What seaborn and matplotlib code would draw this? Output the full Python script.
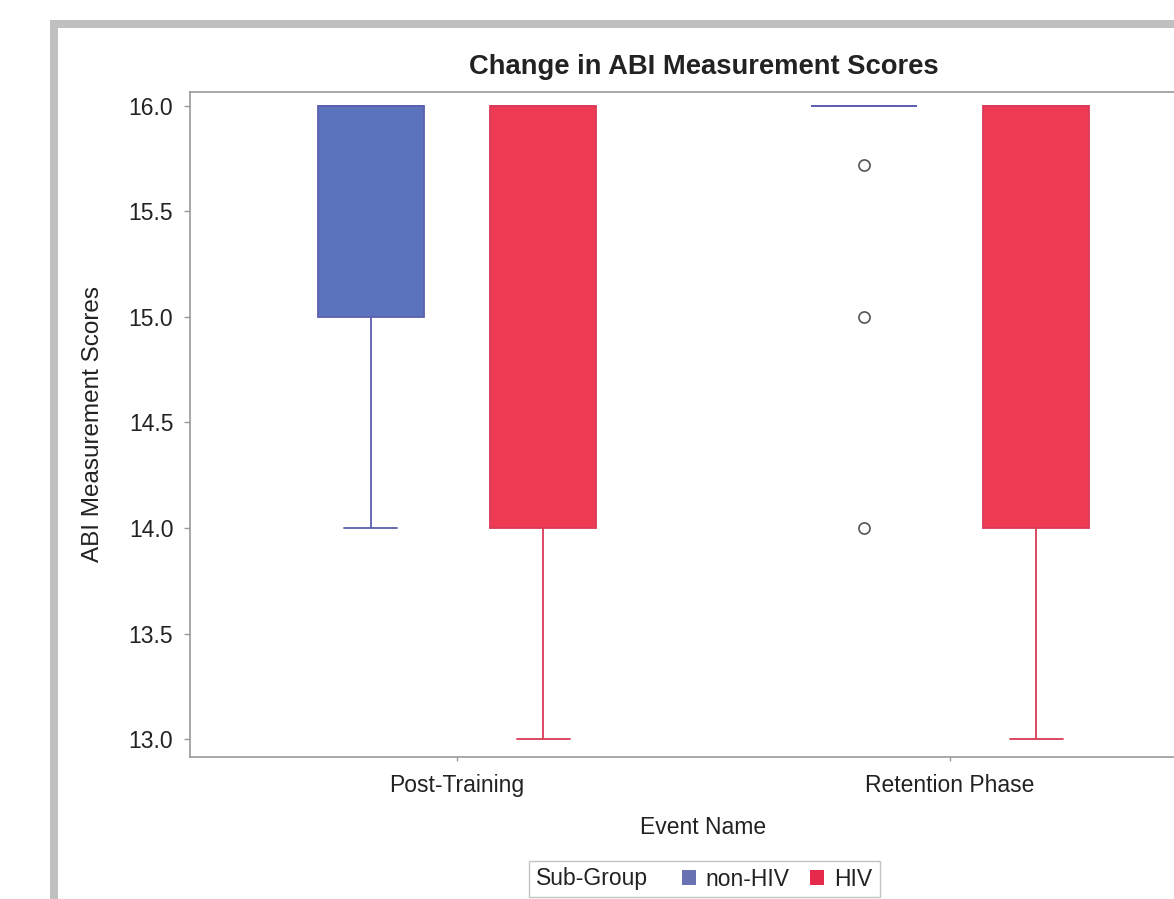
import numpy as np
import pandas as pd
import seaborn as sns
import matplotlib.pyplot as plt
from matplotlib.patches import Patch, Rectangle
from matplotlib.offsetbox import HPacker

events = ["Post-Training", "Retention Phase"]
groups = ["non-HIV", "HIV"]

# individual scores, read back from the boxes / whiskers / outliers
post_nonhiv = [14, 15, 15, 16, 16, 16, 16, 16]
post_hiv = [13, 14, 14, 16, 16, 16, 16, 16]
ret_nonhiv = [14, 15, 15.72, 16, 16, 16, 16, 16, 16, 16, 16, 16, 16, 16]
ret_hiv = [13, 14, 14, 16, 16, 16, 16, 16]

fill_colors = {"non-HIV": "#5b72bd", "HIV": "#ee3a52"}
line_colors = {"non-HIV": "#5c5fae", "HIV": "#d93a58"}
legend_colors = {"non-HIV": "#6a72b4", "HIV": "#e62a4c"}

rows = []
for ev, grp, vals in [(events[0], groups[0], post_nonhiv), (events[0], groups[1], post_hiv),
                      (events[1], groups[0], ret_nonhiv), (events[1], groups[1], ret_hiv)]:
    for v in vals:
        rows.append((ev, grp, v))
df = pd.DataFrame(rows, columns=["Event Name", "Sub-Group", "Score"])

sns.set_theme(style="ticks")
plt.rcParams["font.family"] = ["Liberation Sans", "DejaVu Sans"]
txt = "#222222"

W, H = 1174, 899
fig = plt.figure(figsize=(W / 100, H / 100), dpi=100)

# grey frame of the original screenshot (left and top edges only)
fig.add_artist(Rectangle((50 / W, 0), 8 / W, 1 - 20 / H, transform=fig.transFigure,
                         facecolor="#c0c0c0", edgecolor="none", zorder=0))
fig.add_artist(Rectangle((50 / W, 1 - 28 / H), 1, 8 / H, transform=fig.transFigure,
                         facecolor="#c0c0c0", edgecolor="none", zorder=0))

# axes runs off the right edge, like the cropped screenshot
ax = fig.add_axes([190 / W, 1 - 757 / H, 1027 / W, 665 / H])

sns.boxplot(data=df, x="Event Name", y="Score", hue="Sub-Group",
            order=events, hue_order=groups, palette=fill_colors,
            saturation=1, width=0.7, gap=0.385, whis=1.5, linewidth=1.3,
            flierprops=dict(marker="o", markerfacecolor="white",
                            markeredgecolor="#555555", markersize=8, markeredgewidth=1.2),
            legend=False, ax=ax)

# colour whiskers / caps / edges per sub-group
for line in ax.lines:
    xd = np.asarray(line.get_xdata(), dtype=float)
    if xd.size == 0:
        continue
    if line.get_marker() == "o":
        continue
    side = xd.mean() - round(xd.mean())
    line.set_color(line_colors["non-HIV"] if side < 0 else line_colors["HIV"])
for p in ax.patches:
    verts = p.get_path().vertices
    if len(verts) == 0:
        continue
    cx = verts[:, 0].mean()
    p.set_edgecolor(line_colors["non-HIV"] if cx - round(cx) < 0 else line_colors["HIV"])

ax.set_xlim(-0.5416, 1.5416)
ax.set_ylim(12.915, 16.066)
ax.set_yticks([13.0, 13.5, 14.0, 14.5, 15.0, 15.5, 16.0])
ax.set_yticklabels(["13.0", "13.5", "14.0", "14.5", "15.0", "15.5", "16.0"])

for s in ax.spines.values():
    s.set_color("#9a9a9a")
    s.set_linewidth(1.2)
ax.tick_params(axis="x", length=3, width=1, color="#9a9a9a", pad=9, labelsize=16.5, labelcolor=txt)
ax.tick_params(axis="y", length=4, width=1, color="#9a9a9a", pad=8, labelsize=16.5, labelcolor=txt)

ax.set_xlabel("Event Name", fontsize=16.5, color=txt)
ax.xaxis.set_label_coords(0.5, -0.088)
ax.set_ylabel("ABI Measurement Scores", fontsize=17.5, color=txt)
ax.yaxis.set_label_coords(-0.084, 0.5)
ax.set_title("Change in ABI Measurement Scores", fontsize=19.7, fontweight="bold", color=txt, pad=13)

handles = [Patch(facecolor=legend_colors[g], edgecolor="none") for g in groups]
leg = fig.legend(handles, groups, title="Sub-Group", ncol=2, loc="center",
                 bbox_to_anchor=(704.5 / W, 1 - 879 / H), fontsize=16.5, title_fontsize=16.5,
                 frameon=True, fancybox=False, edgecolor="#b5b5b5", borderpad=0.3,
                 handlelength=0.6, handleheight=0.6, handletextpad=0.45, columnspacing=0.9)
for t in leg.get_texts():
    t.set_color(txt)
leg.get_title().set_color(txt)
leg.get_frame().set_linewidth(1)
# put the legend title on the same row as the entries
old = leg._legend_box
new = HPacker(pad=old.pad, sep=24, align="center",
              children=[leg._legend_title_box, leg._legend_handle_box])
new.set_figure(fig)
new.axes = leg.axes
new.set_offset(leg._findoffset)
leg._legend_box = new

fig.savefig("out.png", dpi=100)
